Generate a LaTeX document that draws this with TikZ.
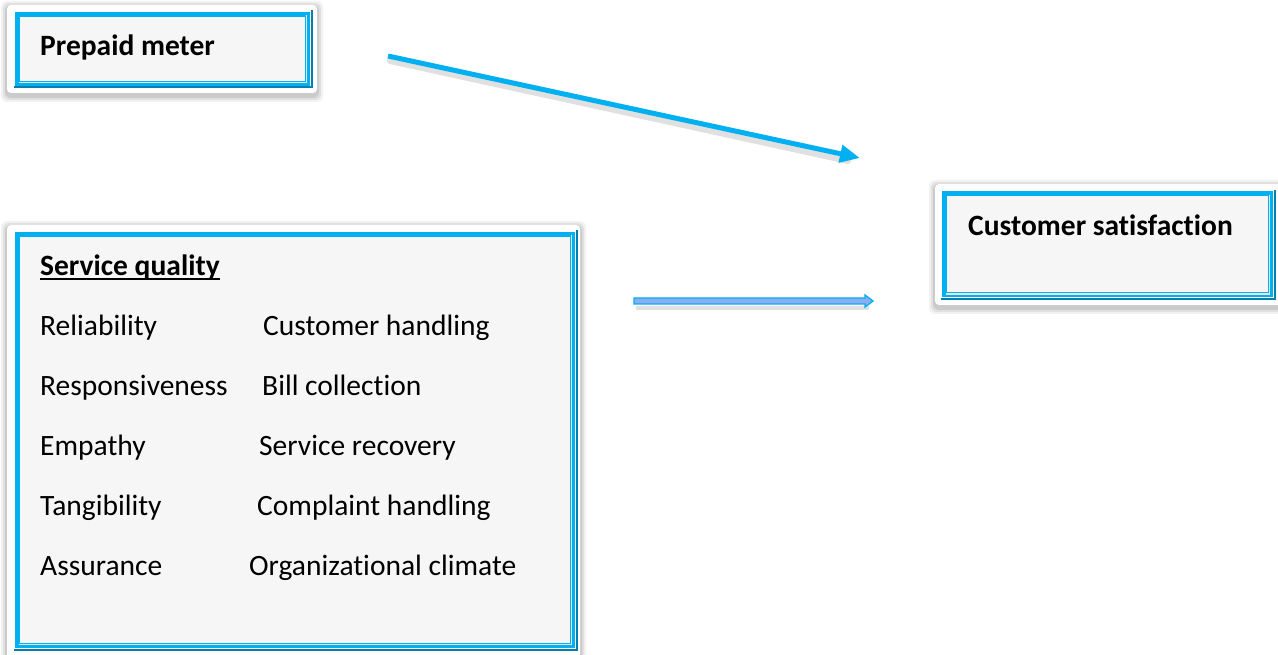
\documentclass[tikz,border=0pt]{standalone}
\usepackage{fontspec}
\setmainfont{Carlito}[Ligatures={NoCommon}]
\usetikzlibrary{arrows.meta,calc}
\definecolor{frameblue}{HTML}{00B0F0}
\definecolor{framedark}{HTML}{0080B0}
\definecolor{panelgray}{HTML}{F6F6F6}
\definecolor{shaftfill}{HTML}{8AAEF0}
\tikzset{
  x=1pt, y=-1pt,
  framebox/.style={draw=frameblue, line width=5pt, fill=panelgray, inner sep=0pt},
  txt/.style={font=\fontsize{29.5}{34}\selectfont, anchor=base west, inner sep=0pt},
  head/.style={txt, font=\fontsize{29.5}{34}\selectfont\bfseries},
  link/.style={draw=frameblue, line width=5pt, -{Triangle[length=20pt,width=17pt]}},
}
% white card with a soft grey shadow behind a framed box
\newcommand{\card}[2]{%
  \foreach \k/\o in {6/0.05,4/0.07,2/0.09}{
    \fill[black, opacity=\o, rounded corners=6pt]
      ($(#1)+(-\k,-\k+2)$) rectangle ($(#2)+(\k,\k+3)$);}
  \fill[white, rounded corners=4pt] (#1) rectangle (#2);
}
% bevel: darker bottom/right edge of a frame and a soft inner shading line
\newcommand{\bevel}[1]{%
  \draw[framedark, line width=2pt] ($(#1.south west)+(-1.5,1.5)$) -- ($(#1.south east)+(1.5,1.5)$) -- ($(#1.north east)+(1.5,-1.5)$);
  \draw[black!10, line width=1.5pt] ($(#1.south west)+(3.5,-3.5)$) -- ($(#1.south east)+(-3.5,-3.5)$) -- ($(#1.north east)+(-3.5,3.5)$);
}
% thicker, lower underline for the heading
\newcommand{\ulhead}[1]{\setbox0\hbox{#1}\rlap{\rule[-4pt]{\wd0}{1.6pt}}\box0}
\begin{document}
\begin{tikzpicture}
\useasboundingbox[fill=white] (0,0) rectangle (1278,655);

% cards
\card{7,5}{317,93}
\card{935,184}{1285,305}
\card{7,225}{580,665}

% framed boxes (path centred in the 5pt border)
\node[framebox, minimum width=290pt, minimum height=69pt] (pm) at (162.5,49) {};
\node[framebox, minimum width=326pt, minimum height=101pt] (cs) at (1107.5,244.5) {};
\node[framebox, minimum width=555pt, minimum height=411pt] (sq) at (295,440) {};
\bevel{pm}
\bevel{cs}
\bevel{sq}

% texts
\node[head] (pmt) at (40,55.5) {Prepaid meter};
\node[head] (cst) at (968,235.5) {Customer satisfaction};
\node[head] (sqt) at (40,276) {\ulhead{Service quality}};

\node[txt] (r1) at (40,335) {Reliability};
\node[txt] (r2) at (40,395) {Responsiveness};
\node[txt] (r3) at (40,455) {Empathy};
\node[txt] (r4) at (40,515) {Tangibility};
\node[txt] (r5) at (40,575) {Assurance};
\node[txt] (c1) at (263,335) {Customer handling};
\node[txt] (c2) at (262,395) {Bill collection};
\node[txt] (c3) at (259,455) {Service recovery};
\node[txt] (c4) at (257,515) {Complaint handling};
\node[txt] (c5) at (249,575) {Organizational climate};

% connectors
\coordinate (a1s) at (388,56);
\coordinate (a1e) at (860,158);
\coordinate (a2s) at (634,301);
\coordinate (a2e) at (873,301);

\draw[black, opacity=0.12, line width=6pt, line cap=round] ($(a1s)+(2,5)$) -- ($(a1e)+(-12,3)$);
\draw[link] (a1s) -- (a1e);

\fill[black, opacity=0.12] ($(a2s)+(2,5)$) rectangle ($(a2e)+(-4,9)$);
\draw[frameblue, line width=1.3pt, fill=shaftfill, line join=miter]
  ($(a2s)+(0,-3)$) -- ($(a2e)+(-8,-3)$) -- ($(a2e)+(-8,-6)$) -- (a2e)
  -- ($(a2e)+(-8,6)$) -- ($(a2e)+(-8,3)$) -- ($(a2s)+(0,3)$) -- cycle;
\end{tikzpicture}
\end{document}
